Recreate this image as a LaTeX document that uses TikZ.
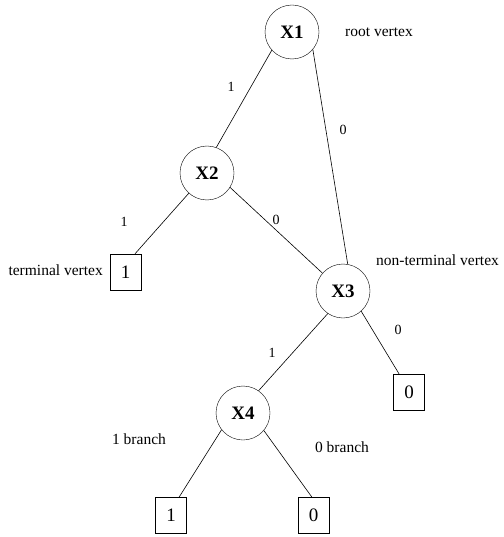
\documentclass[tikz,border=0pt]{standalone}
\usepackage{fontspec}
\setmainfont{Liberation Serif}
\begin{document}
\begin{tikzpicture}[x=1pt,y=-1pt,
  vertex/.style={draw,circle,minimum size=54pt,inner sep=0pt,font=\fontsize{19}{22}\selectfont\bfseries},
  leaf/.style={draw,rectangle,minimum width=31pt,minimum height=36pt,inner sep=0pt,font=\fontsize{19}{22}\selectfont},
  elabel/.style={inner sep=0pt,font=\fontsize{14}{16}\selectfont},
  tlabel/.style={inner sep=0pt,font=\fontsize{15.5}{18}\selectfont},
  edge/.style={draw,line width=0.6pt}]
\useasboundingbox (0,0) rectangle (503,537);

% decision vertices
\node[vertex] (x1) at (292,32)  {X1};
\node[vertex] (x2) at (207,173) {X2};
\node[vertex] (x3) at (343,291) {X3};
\node[vertex] (x4) at (243,413) {X4};

% terminal vertices
\node[leaf] (b1) at (125.5,272) {1};
\node[leaf] (b2) at (409,392)   {0};
\node[leaf] (b3) at (171,515.5) {1};
\node[leaf] (b4) at (313.5,515.5) {0};

% branches
\path[edge] (x1.222) -- (x2.70);
\path[edge] (x1.-40) -- (x3.80);
\path[edge] (x2.228) -- ([xshift=9.5pt]b1.north);
\path[edge] (x2.-32) -- (x3.139);
\path[edge] (x3.-48) -- ([xshift=-10pt]b2.north);
\path[edge] (x3.236) -- (x4.55);
\path[edge] (x4.218) -- ([xshift=8pt]b3.north);
\path[edge] (x4.-40) -- ([xshift=-1.5pt]b4.north);

% branch values
\node[elabel] (l1) at (231,87)  {1};
\node[elabel] (l2) at (343,130) {0};
\node[elabel] (l3) at (124,222) {1};
\node[elabel] (l4) at (276,220) {0};
\node[elabel] (l5) at (398,330) {0};
\node[elabel] (l6) at (272,353) {1};

% annotations
\node[tlabel,anchor=west] (troot) at (345,32)  {root vertex};
\node[tlabel,anchor=west] (tnon)  at (376,260) {non-terminal vertex};
\node[tlabel,anchor=east] (tterm) at (103,270) {terminal vertex};
\node[tlabel] (tone)  at (139,439) {1 branch};
\node[tlabel] (tzero) at (342,447) {0 branch};
\end{tikzpicture}
\end{document}
